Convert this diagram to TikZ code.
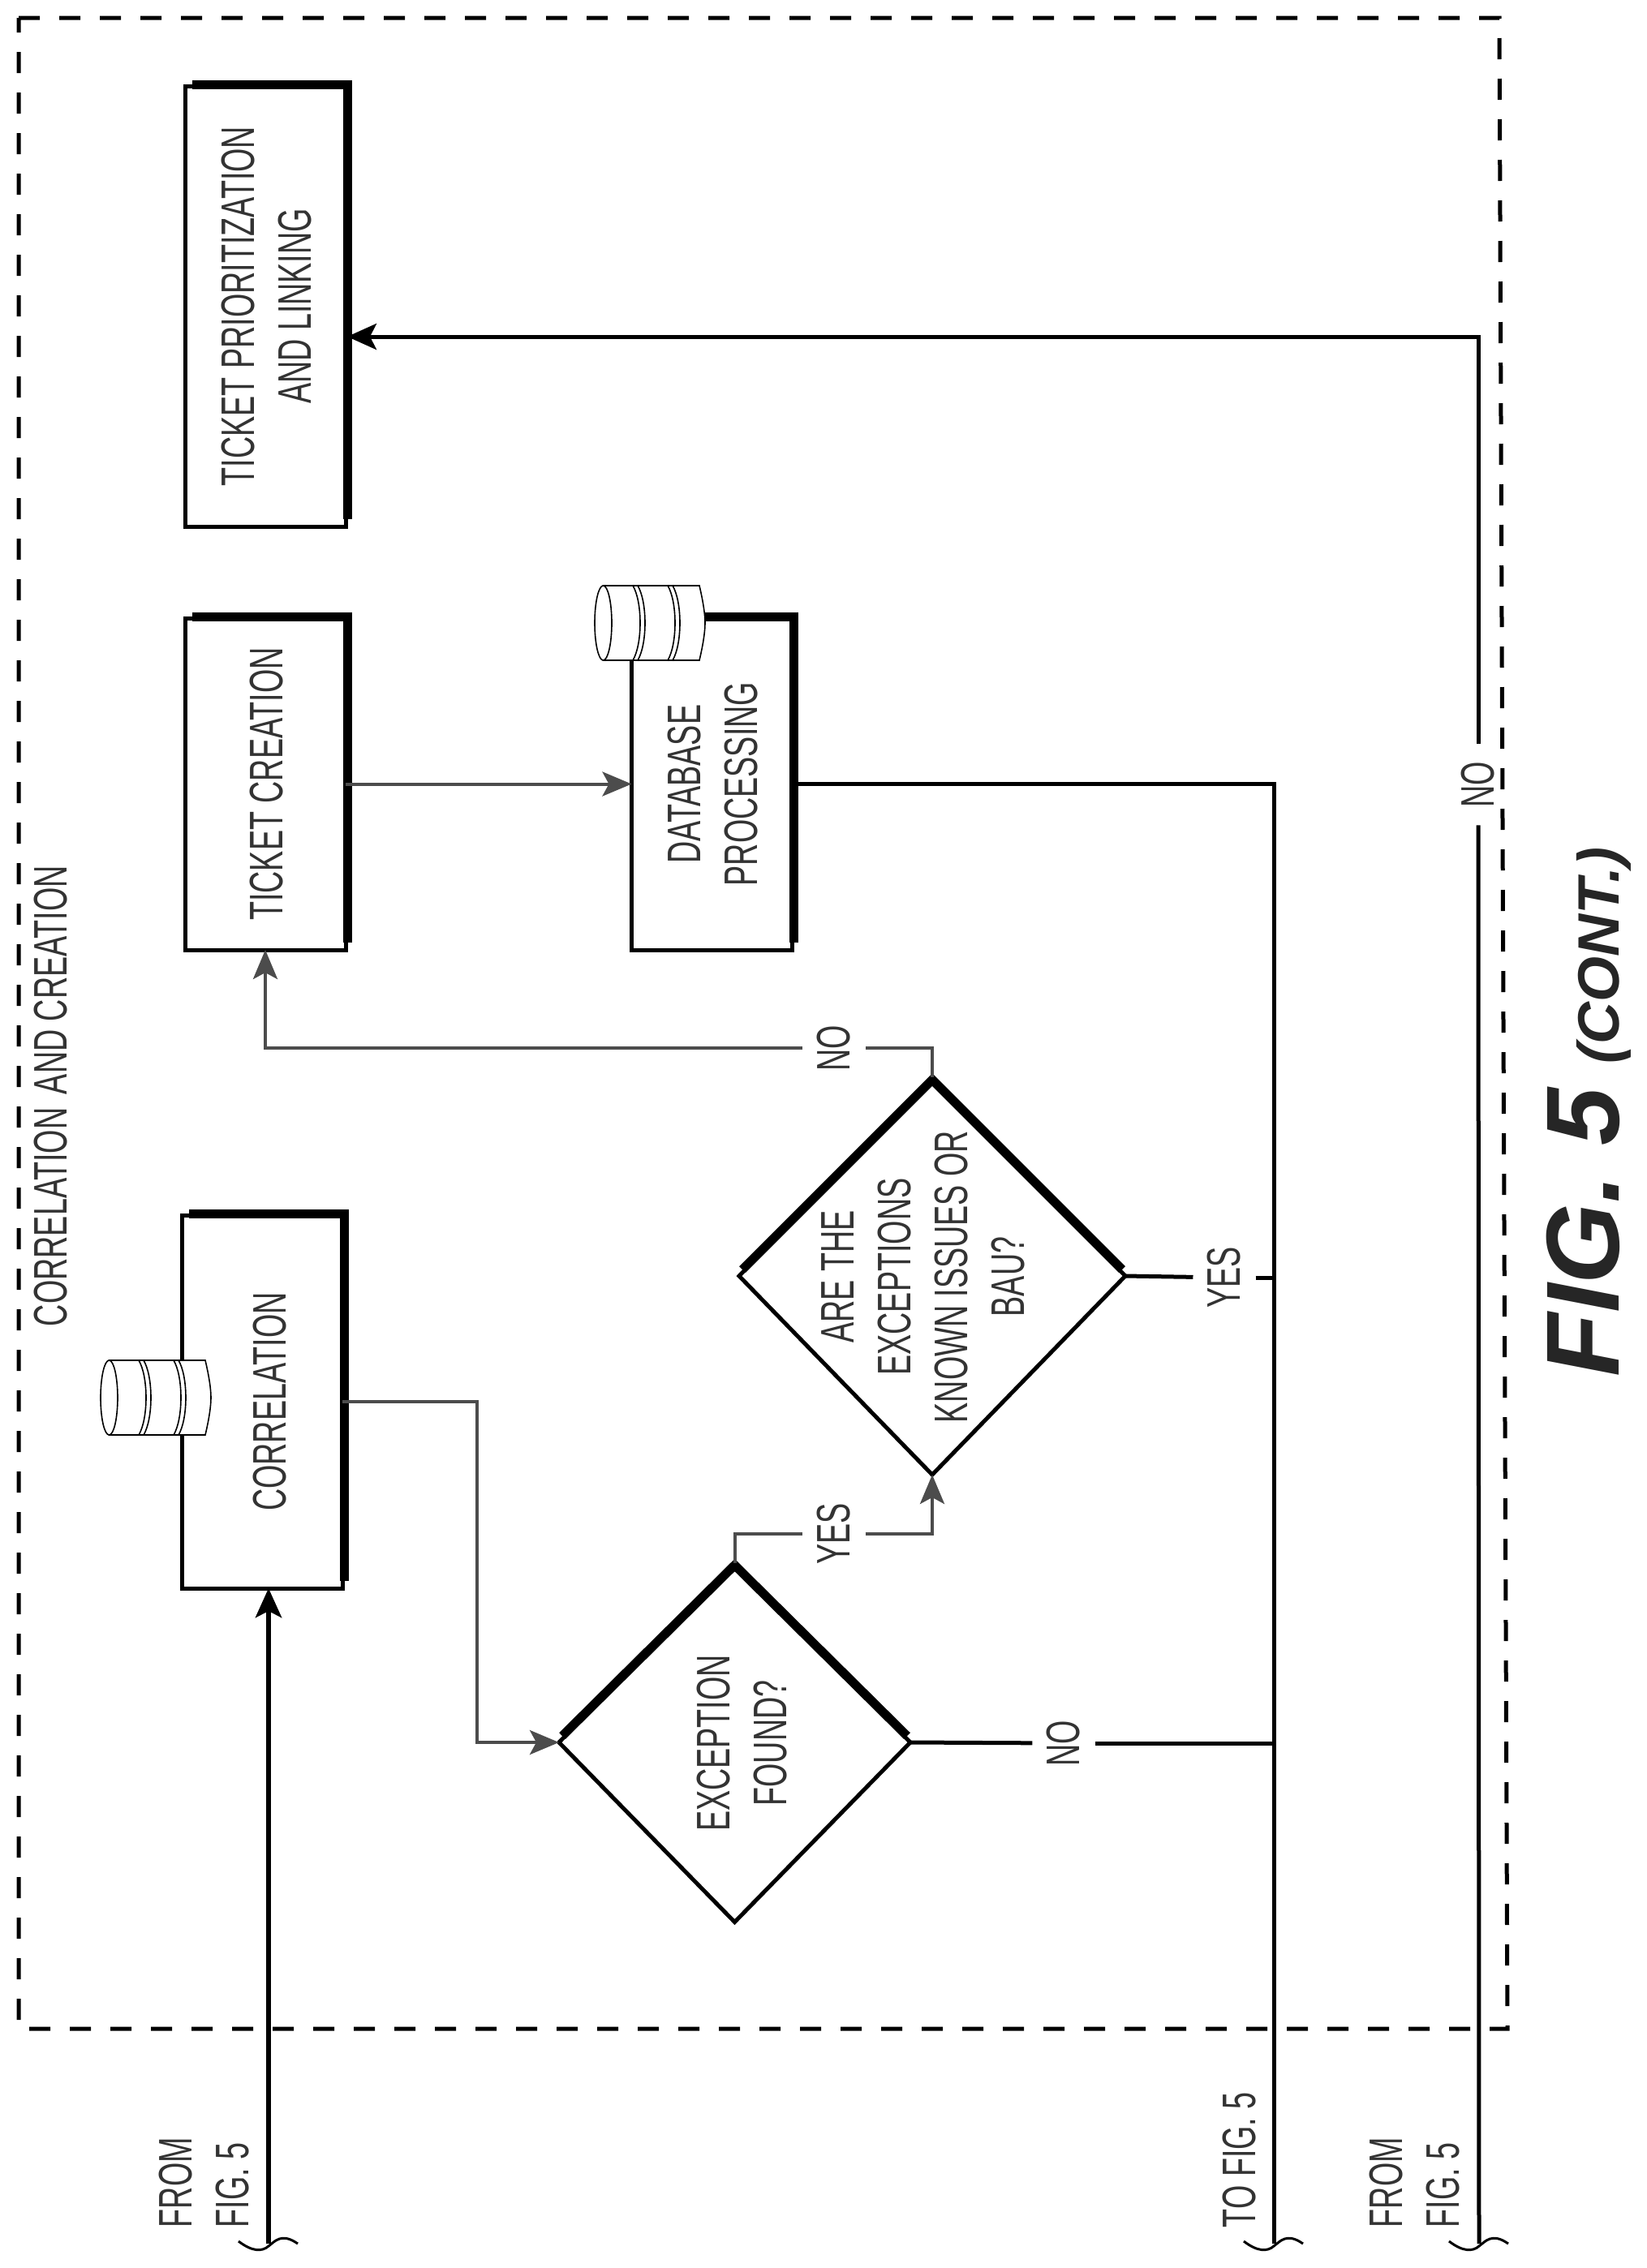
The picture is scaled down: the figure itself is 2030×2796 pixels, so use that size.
\documentclass[tikz,border=0pt]{standalone}
\usepackage{fontspec}
\setmainfont[FakeStretch=0.65]{Liberation Sans}
\newfontfamily\titlefont{Liberation Sans}
\usepackage{tikz}
\usetikzlibrary{positioning}
\usetikzlibrary{calc}
\usetikzlibrary{arrows.meta}
\usetikzlibrary{shapes.geometric}
\newcommand{\upc}[1]{\hspace*{7pt}\rotatebox{90}{\begin{tabular}{@{}c@{}}#1\end{tabular}}}
\newcommand{\upl}[1]{\hspace*{7pt}\rotatebox{90}{\begin{tabular}{@{}l@{}}#1\end{tabular}}}
\tikzset{
	every node/.style={align=center,outer sep=0pt,text=black!80,font=\fontsize{29}{35}\selectfont},
	procbox/.style={draw=black,rectangle,line width=2.5pt,minimum width=99pt,inner sep=0pt},
	decbox/.style={draw=black,diamond,line width=2.5pt,inner sep=0pt},
	flowlabel/.style={inner xsep=9pt,inner ysep=11pt},
	offpage/.style={inner sep=0pt,anchor=south},
	heavy/.style={line width=5.5pt,line join=miter},
	frameline/.style={line width=2.5pt,dash pattern=on 13pt off 12pt},
	mainflow/.style={line width=2.5pt,-{Stealth[length=18pt,width=16pt,inset=4pt]}},
	graysolid/.style={line width=2.5pt},
	grayflow/.style={line width=2pt,draw=black!70,-{Stealth[length=18pt,width=15pt,inset=4pt]}},
	grayplain/.style={line width=2pt,draw=black!70},
	squiggle/.style={line width=1.5pt},
	drum/.pic={
		\draw [line width=0.8pt,fill=white] (10.5,-46) -- (129,-46) .. controls (134,-25) and (136,-10) .. (136,0) .. controls (136,10) and (134,25) .. (129,46) -- (10.5,46) -- cycle;
		\draw [line width=0.8pt,fill=white] (10.5,0) ellipse [x radius=10.5,y radius=46];
		\foreach \a in {47,53,90,96}
			\draw [line width=0.8pt] (\a,-46) .. controls +(12,20) and +(12,-20) .. (\a,46);
	},
}

\begin{document}
\begin{tikzpicture}[x=0.5pt,y=-0.5pt]
	\useasboundingbox (0,0) rectangle (2030,2796);

	% dashed frame.....................
	\draw [frameline] (23,22) -- (1848,22) -- (1858,2501) -- (23,2501) -- cycle;
	\node (frametitle) at (61,1351) {\upc{CORRELATION\hspace{3pt} AND CREATION}};

	% boxes...................
	\node [procbox,minimum height=271.5pt] (prio) at (327,377.5) {\upc{TICKET PRIORITIZATION\\AND LINKING}};
	\node [procbox,minimum height=204.5pt] (tick) at (327,966.5) {\upc{TICKET CREATION}};
	\node [procbox,minimum height=204.5pt] (dbase) at (877.5,966.5) {\upc{DATABASE\\PROCESSING}};
	\node [procbox,minimum height=230pt] (corr) at (323,1728) {\hspace*{8pt}\upc{CORRELATION}};

	% heavy edges of the boxes.................
	\foreach \b in {prio,tick,dbase,corr}
		\draw [heavy] ($(\b.north west)+(9,-1.5)$) -- ($(\b.north east)+(2,-1.5)$) -- ($(\b.south east)+(2,-9)$);

	% drums....................
	\pic at (733,768) {drum};
	\pic at (124,1723) {drum};

	% decisions...................
	\node [decbox,minimum width=216.5pt,minimum height=221.5pt] (dec1) at (905.5,2148) {};
	\node [decbox,minimum width=238pt,minimum height=245pt] (dec2) at (1149,1573) {};
	\node (dec1text) at (913,2149) {\upc{EXCEPTION\\FOUND?}};
	\node (dec2text) at (1136,1574) {\upc{ARE THE\\EXCEPTIONS\\KNOWN ISSUES OR\\BAU?}};
	\foreach \d in {dec1,dec2}
		\draw [heavy] ($(\d.west)+(4,-8)$) -- ($(\d.north)+(0,3)$) -- ($(\d.east)+(-4,-8)$);

	% flow labels.................
	\node [flowlabel] (yes1) at (1028,1891) {\rotatebox{90}{YES}};
	\node [flowlabel] (no2) at (1028,1292) {\rotatebox{90}{NO}};
	\node [flowlabel] (no1) at (1311,2149) {\rotatebox{90}{NO}};
	\node [flowlabel] (yes2) at (1509,1575) {\rotatebox{90}{YES}};
	\node [flowlabel] (no3) at (1822,967) {\rotatebox{90}{NO}};

	% off page ends..............
	\coordinate (from1) at (331,2766);
	\coordinate (to2) at (1570,2766);
	\coordinate (from3) at (1823,2766);
	\coordinate (mid1) at (588,1900);
	\coordinate (prioin) at (428,415);
	\node [offpage] (from1text) at (250,2746) {\upl{FROM\\FIG. 5}};
	\node [offpage] (to2text) at (1528,2746) {\rotatebox{90}{TO FIG. 5}};
	\node [offpage] (from3text) at (1742,2746) {\upl{FROM\\FIG. 5}};
	\foreach \s in {from1,to2,from3}
		\draw [squiggle] ($(\s)+(-37,-3)$) .. controls ($(\s)+(-20,10)$) and ($(\s)+(-8,10)$) .. ($(\s)+(0,3)$) .. controls ($(\s)+(8,-3)$) and ($(\s)+(16,-14)$) .. ($(\s)+(36,0)$);

	% black lines.................
	\draw [mainflow,line width=3.25pt] (from1) to (from1 |- corr.south);
	\draw [graysolid] (to2) to (to2 |- dbase.east) to (dbase.east);
	\draw [graysolid] (from3) to (no3);
	\draw [mainflow] (no3) |- (prioin);
	\draw [graysolid] (dec1.east) to (no1);
	\draw [graysolid] (no1) to (no1 -| to2);
	\draw [graysolid] (dec2.east) to (yes2);
	\draw [graysolid] (yes2) to (yes2 -| to2);

	% gray arrows.................
	\draw [grayflow] (tick.east |- dbase.west) to (dbase.west);
	\draw [grayflow] (corr.east) to (mid1 |- corr.east) to (mid1 |- dec1.west) to (dec1.west);
	\draw [grayplain] (dec1.north) |- (yes1);
	\draw [grayflow] (yes1) -| (dec2.south);
	\draw [grayplain] (dec2.north) |- (no2);
	\draw [grayflow] (no2) -| (tick.south);

	% figure title..............
	\node [rotate=90,anchor=base west,inner sep=0pt,text=black!85] (figtitle) at (1995,1697) {\titlefont\bfseries\itshape\fontsize{64}{70}\selectfont FIG. 5\hspace{15pt}\fontsize{36}{40}\selectfont (CONT.)};
\end{tikzpicture}
\end{document}
